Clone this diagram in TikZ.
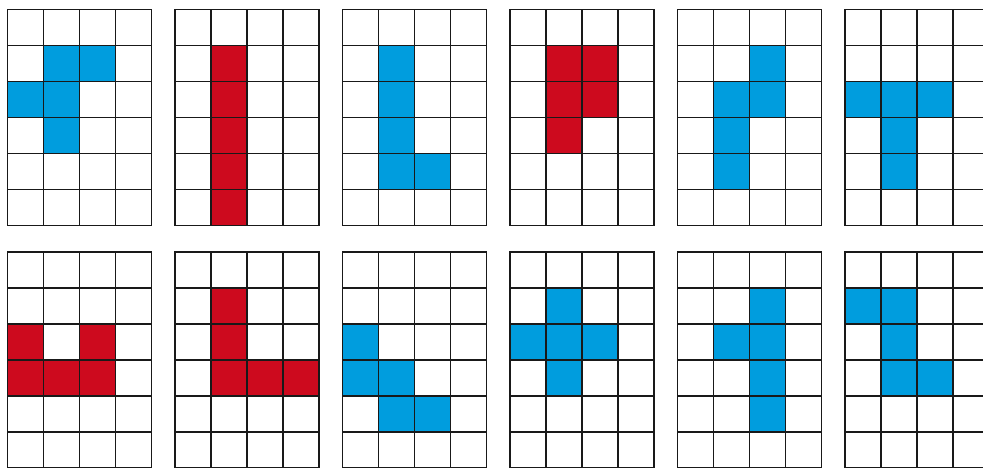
\documentclass[tikz,border=0pt]{standalone}
\definecolor{pblue}{RGB}{0,157,222}
\definecolor{pred}{RGB}{205,10,30}
\tikzset{gridline/.style={line width=1.9pt, draw=black!90, line cap=rect}}
\newcommand{\pgrid}[4]{%
  \begin{scope}[shift={(#1,#2)}]
    \foreach \r/\c in {#4} \fill[#3] ({36*\c},{36*\r}) rectangle ++(36,36);
    \foreach \i in {0,1,2,3,4} \draw[gridline] ({36*\i},0) -- ({36*\i},216);
    \foreach \j in {0,1,2,3,4,5,6} \draw[gridline] (0,{36*\j}) -- (144,{36*\j});
  \end{scope}}
\begin{document}
\begin{tikzpicture}[x=1pt,y=-1pt]
\useasboundingbox (0,0) rectangle (983,468);
\fill[white] (0,0) rectangle (983,468);
% top row
\pgrid{7.5}{9.5}{pblue}{1/1,1/2,2/0,2/1,3/1}
\pgrid{175}{9.5}{pred}{1/1,2/1,3/1,4/1,5/1}
\pgrid{342.5}{9.5}{pblue}{1/1,2/1,3/1,4/1,4/2}
\pgrid{510}{9.5}{pred}{1/1,1/2,2/1,2/2,3/1}
\pgrid{677.5}{9.5}{pblue}{1/2,2/1,2/2,3/1,4/1}
\pgrid{845}{9.5}{pblue}{2/0,2/1,2/2,3/1,4/1}
% bottom row
\pgrid{7.5}{251.7}{pred}{2/0,2/2,3/0,3/1,3/2}
\pgrid{175}{251.7}{pred}{1/1,2/1,3/1,3/2,3/3}
\pgrid{342.5}{251.7}{pblue}{2/0,3/0,3/1,4/1,4/2}
\pgrid{510}{251.7}{pblue}{1/1,2/0,2/1,2/2,3/1}
\pgrid{677.5}{251.7}{pblue}{1/2,2/1,2/2,3/2,4/2}
\pgrid{845}{251.7}{pblue}{1/0,1/1,2/1,3/1,3/2}
\end{tikzpicture}
\end{document}
